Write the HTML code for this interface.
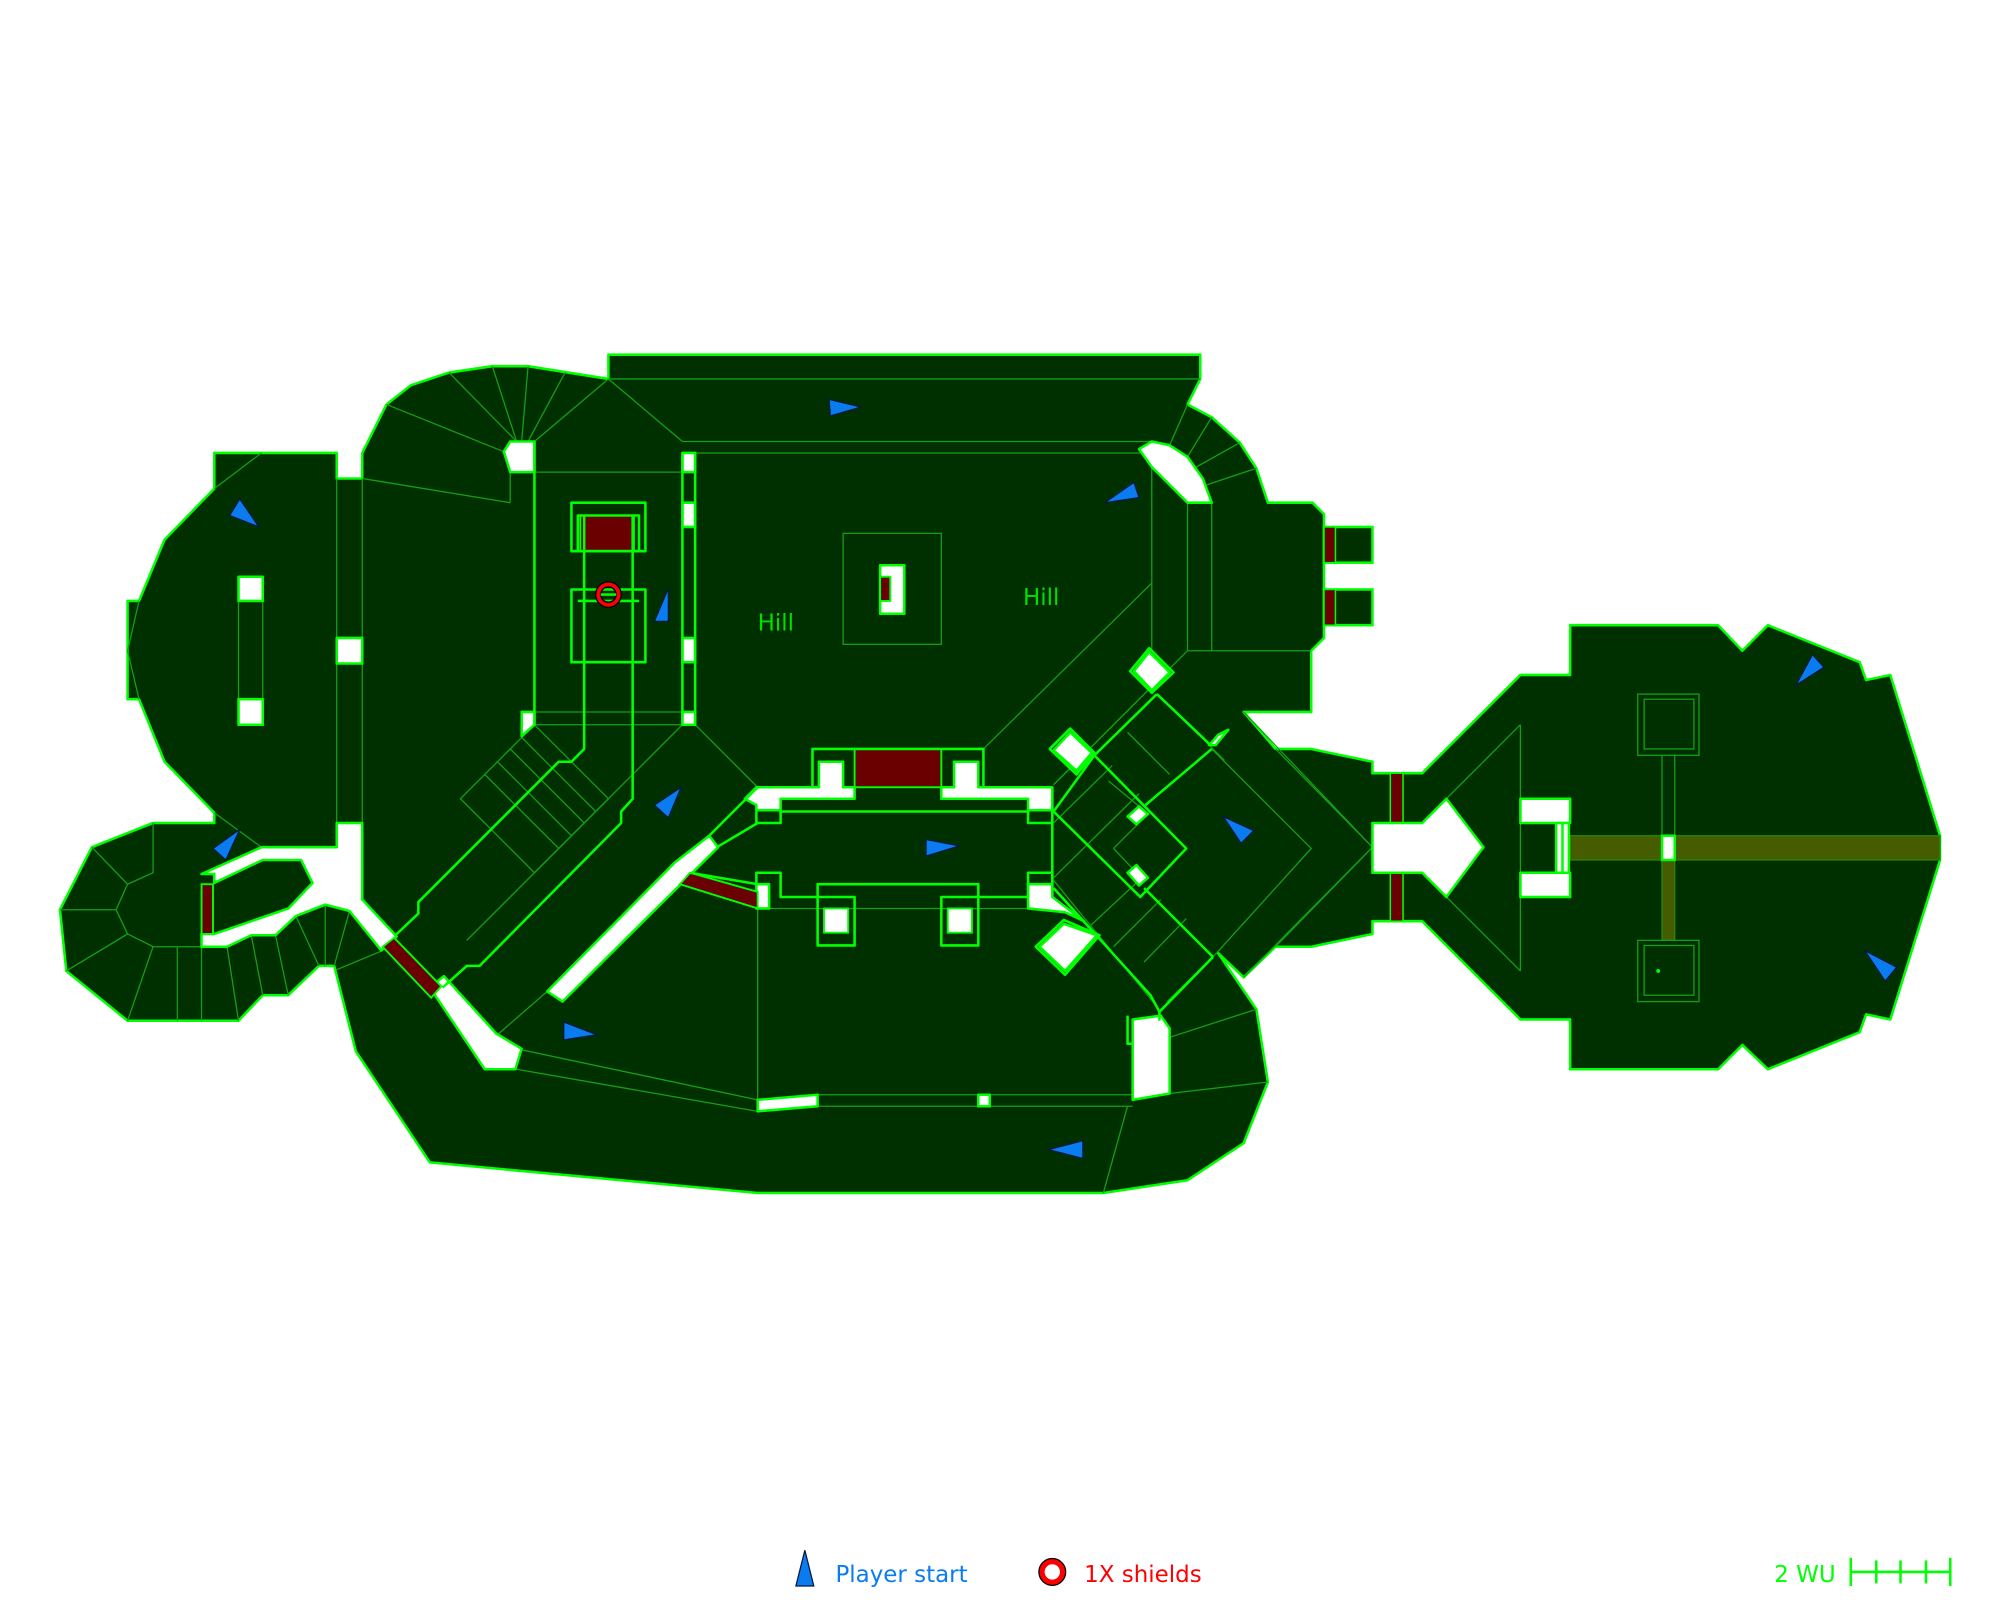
<!DOCTYPE html>
<html><head><meta charset="utf-8"><style>
html,body{margin:0;padding:0;background:#fff;}
svg{display:block;}
text{font-family:"DejaVu Sans","Liberation Sans",sans-serif;}
</style></head><body>
<svg width="2000" height="1600" viewBox="0 0 1568 1254" preserveAspectRatio="none" xmlns="http://www.w3.org/2000/svg">
<rect width="1568" height="1254" fill="#fff"/>
<polygon fill="#003000" stroke="#00ff00" stroke-width="2" stroke-linejoin="round" points="168,355 264,355 264,375 284,375 284,355 303,317 322,302 352,292 386,287 414,287 477,297 477,278 941,278 941,297 931,317 950,327 972,347 985,367 994,394 1029,394 1038,403 1038,413 1038,500 1028,510 1028,558 975,558 1000,587 1028,587 1076,597 1076,606 1115,606 1192,529 1231,529 1231,490 1347,490 1366,510 1386,490 1458,519 1463,533 1482,529 1521,655 1521,674 1482,799 1463,795 1458,809 1386,838 1366,819 1347,838 1231,838 1231,799 1192,799 1115,722 1076,722 1076,732 1028,742 1000,742 975,766 955,747 985,791 994,848 975,896 931,925 865,935 594,935 337,911 279,824 262,757 250,757 226,780 206,780 187,800 100,800 52,761 47,713 72,664 120,645 168,645 168,637 129,597 109,548 100,548 100,471 109,471 129,423 168,383"/>
<g fill="#003000" stroke="#00ff00" stroke-width="2">
<rect x="1038" y="413" width="38" height="28"/><rect x="1038" y="462" width="38" height="28"/>
</g>
<g fill="#6b0000" stroke="#00ff00" stroke-width="1.2">
<rect x="1038" y="413" width="9" height="28"/><rect x="1038" y="462" width="9" height="28"/>
<rect x="1090" y="606" width="10" height="39"/><rect x="1090" y="684" width="10" height="38"/>
</g>
<rect x="1231" y="655" width="290" height="19" fill="#465c00" stroke="#2a8a00" stroke-width="1"/>
<rect x="1303" y="674" width="10" height="63" fill="#465c00" stroke="#2a8a00" stroke-width="1"/>
<g stroke="#14a014" stroke-width="1" fill="none">
<line x1="477" y1="297" x2="941" y2="297"/>
<line x1="535" y1="346" x2="903" y2="346"/><line x1="545" y1="355" x2="903" y2="355"/>
<line x1="419" y1="370" x2="535" y2="370"/>
<line x1="477" y1="297" x2="535" y2="346"/><line x1="477" y1="297" x2="419" y2="346"/>
<line x1="284" y1="375" x2="400" y2="394"/><line x1="400" y1="370" x2="400" y2="394"/>
<line x1="303" y1="317" x2="395" y2="354"/>
<line x1="405" y1="346" x2="352" y2="292"/><line x1="405" y1="346" x2="386" y2="287"/>
<line x1="409" y1="346" x2="414" y2="287"/><line x1="414" y1="346" x2="443" y2="292"/>
<line x1="264" y1="375" x2="264" y2="645"/><line x1="284" y1="375" x2="284" y2="645"/>
<line x1="168" y1="383" x2="205" y2="355"/><line x1="168" y1="637" x2="205" y2="664"/>
<polyline points="109,471 100,510 109,548"/>
<rect x="187" y="471" width="19" height="77"/>
<line x1="419" y1="558" x2="545" y2="558"/><line x1="419" y1="568" x2="545" y2="568"/>
<polygon points="361,626 419,568 477,626 419,684"/>
<line x1="380" y1="607" x2="438" y2="665"/><line x1="390" y1="597" x2="448" y2="655"/>
<line x1="400" y1="587" x2="458" y2="645"/><line x1="409" y1="578" x2="467" y2="636"/>
<line x1="545" y1="568" x2="594" y2="617"/>
<line x1="535" y1="568" x2="366" y2="737"/>
<line x1="429" y1="777" x2="390" y2="811"/>
<line x1="903" y1="355" x2="903" y2="510"/><line x1="931" y1="394" x2="931" y2="510"/><line x1="950" y1="394" x2="950" y2="510"/>
<line x1="903" y1="457" x2="771" y2="587"/><line x1="931" y1="510" x2="1028" y2="510"/>
<line x1="917" y1="349" x2="931" y2="317"/><line x1="931" y1="358" x2="950" y2="327"/>
<line x1="938" y1="366" x2="972" y2="347"/><line x1="946" y1="380" x2="985" y2="367"/>
<rect x="661" y="418" width="77" height="87"/>
<polyline points="975,558 1076,664 975,766"/>
<polyline points="1000,587 1076,664 1000,742"/>
<polyline points="950,587 1028,665 951,750"/>
<line x1="931" y1="510" x2="887" y2="554"/>
<line x1="887" y1="554" x2="826" y2="615"/>
<line x1="901" y1="540" x2="826" y2="615"/>
<line x1="926" y1="562" x2="960" y2="596"/>
<line x1="884" y1="574" x2="917" y2="607"/>
<line x1="869" y1="612" x2="898" y2="636"/>
<line x1="873" y1="665" x2="893" y2="645"/><line x1="873" y1="665" x2="893" y2="686"/>
<line x1="826" y1="645" x2="872" y2="600"/>
<line x1="826" y1="688" x2="893" y2="622"/>
<line x1="826" y1="690" x2="908" y2="790"/>
<line x1="850" y1="730" x2="893" y2="690"/>
<line x1="873" y1="742" x2="910" y2="705"/>
<line x1="897" y1="754" x2="930" y2="720"/>
<line x1="915" y1="785" x2="951" y2="750"/>
<line x1="1192" y1="568" x2="1134" y2="626"/><line x1="1192" y1="761" x2="1134" y2="703"/>
<line x1="1192" y1="568" x2="1192" y2="761"/>
<line x1="410" y1="823" x2="594" y2="862"/><line x1="405" y1="838" x2="594" y2="871"/>
<line x1="594" y1="712" x2="594" y2="862"/>
<line x1="641" y1="858" x2="888" y2="858"/><line x1="641" y1="867" x2="888" y2="867"/>
<line x1="865" y1="935" x2="884" y2="867"/>
<line x1="917" y1="857" x2="994" y2="848"/><line x1="917" y1="813" x2="985" y2="791"/>
<line x1="603" y1="712" x2="825" y2="712"/>
<polyline points="72,664 100,693 120,684 120,645"/>
<line x1="47" y1="713" x2="91" y2="713"/>
<polyline points="100,693 91,713 100,732 52,761"/>
<line x1="100" y1="732" x2="120" y2="742"/><line x1="120" y1="742" x2="100" y2="800"/>
<line x1="120" y1="742" x2="158" y2="742"/>
<line x1="139" y1="742" x2="139" y2="800"/><line x1="158" y1="742" x2="158" y2="800"/>
<line x1="178" y1="742" x2="187" y2="800"/><line x1="197" y1="733" x2="206" y2="780"/>
<line x1="216" y1="733" x2="226" y2="780"/><line x1="232" y1="718" x2="250" y2="757"/>
<line x1="255" y1="709" x2="255" y2="757"/><line x1="274" y1="714" x2="262" y2="757"/>
<line x1="300" y1="745" x2="264" y2="760"/>
<rect x="1284" y="544" width="48" height="48"/><rect x="1289" y="548" width="39" height="39"/>
<rect x="1284" y="737" width="48" height="48"/><rect x="1289" y="741" width="39" height="39"/>
<line x1="1303" y1="592" x2="1303" y2="655"/><line x1="1313" y1="592" x2="1313" y2="655"/>
</g>
<circle cx="1300" cy="761" r="1.5" fill="#00ff00"/>
<g fill="#fff" stroke="#00ff00" stroke-width="2" stroke-linejoin="round">
<polygon points="205,664 264,664 264,645 284,645 284,705 311,734 299,745 274,714 255,709 232,718 216,733 197,733 178,742 158,742 158,732 168,732 226,712 245,692 236,674 206,674 168,692 168,685 158,685 158,685"/>
<polygon points="400,346 419,346 419,370 400,370 395,354"/>
<rect x="535" y="355" width="10" height="15"/><rect x="535" y="394" width="10" height="19"/>
<rect x="535" y="500" width="10" height="19"/><rect x="535" y="558" width="10" height="10"/>
<polygon points="409,558 419,558 419,568 409,577"/>
<rect x="264" y="500" width="20" height="20"/>
<rect x="187" y="452" width="19" height="19"/><rect x="187" y="548" width="19" height="20"/>
<polygon points="429,777 529,676 556,655 563,664 441,785"/>
<polygon points="337,774 348,765 389,810 409,822 404,838 380,838"/>
<polygon points="584,626 593,617 642,617 642,597 661,597 661,617 670,617 670,626 612,626 612,635 593,635 593,631"/>
<polygon points="738,617 748,617 748,597 767,597 767,617 825,617 825,635 806,635 806,626 738,626"/>
<rect x="593" y="693" width="10" height="19"/>
<polygon points="806,693 825,693 825,703 850,722 835,715 806,712"/>
<polygon points="893,352 903,346 917,349 931,358 943,375 950,394 931,394 903,366"/>
<polygon points="901,511 917,527 903,541 889,526"/>
<polygon points="839,574 856,590 844,604 826,588"/>
<polygon points="815,742 834,724 860,733 835,761"/>
<polygon points="948,584 955,576 963,572 953,584"/>
<polygon points="884,640 893,632 900,638 891,646"/>
<polygon points="884,684 891,678 900,688 893,694"/>
<polygon points="888,799 910,796 917,806 917,857 888,862"/>
<polygon points="594,862 641,858 641,867 594,871"/>
<rect x="767" y="858" width="9" height="9"/>
<polygon points="1076,645 1115,645 1134,626 1163,664 1134,703 1115,684 1076,684"/>
<rect x="1192" y="626" width="39" height="19"/><rect x="1192" y="684" width="39" height="19"/>
<rect x="1220" y="645" width="10" height="39"/>
<rect x="1303" y="655" width="10" height="19"/>
<rect x="690" y="443" width="19" height="38"/>
</g>
<g fill="#6b0000" stroke="#00ff00" stroke-width="1.5">
<polygon points="300,742 309,735 346,773 338,782"/>
<rect x="158" y="693" width="9" height="39"/>
<polygon points="533,693 541,684 594,699 594,712"/>
<rect x="670" y="587" width="68" height="30"/>
<rect x="455" y="404" width="42" height="28"/>
<rect x="690" y="452" width="8" height="19"/>
</g>
<g stroke="#00ff00" stroke-width="2" fill="none" stroke-linejoin="round">
<line x1="419" y1="346" x2="419" y2="568"/>
<line x1="535" y1="355" x2="535" y2="568"/><line x1="545" y1="355" x2="545" y2="568"/>
<rect x="448" y="394" width="58" height="38"/><rect x="448" y="462" width="58" height="57"/>
<rect x="453" y="404" width="48" height="28"/>
<polyline points="458,404 458,587 448,597 438,597 328,707 328,716 310,733"/>
<polyline points="496,404 496,626 487,636 487,645 376,757 366,757 347,774"/>
<line x1="453" y1="471" x2="501" y2="471"/>
<polyline points="637,617 637,587 771,587 771,617"/>
<polyline points="593,636 593,645 612,645 612,636 806,636 806,645 825,645 825,636"/>
<polyline points="593,693 593,684 612,684 612,703 641,703 641,693 767,693 767,703 806,703 806,684 825,684 825,693"/>
<rect x="641" y="703" width="29" height="38"/><rect x="738" y="703" width="29" height="38"/>
<polygon points="646,712 665,712 665,731 646,731" fill="#fff" stroke-width="1.5"/>
<polygon points="743,712 762,712 762,731 743,731" fill="#fff" stroke-width="1.5"/>
<line x1="555" y1="656" x2="594" y2="617"/><line x1="562" y1="664" x2="594" y2="645"/>
<line x1="541" y1="684" x2="594" y2="693"/>
<line x1="825" y1="617" x2="825" y2="703"/>
<polygon points="901,508 920,527 903,543 886,526"/>
<polygon points="839,571 858,590 844,607 823,587"/>
<polygon points="834,721 862,733 835,764 812,742"/>
<line x1="907" y1="544" x2="858" y2="592"/>
<line x1="907" y1="544" x2="948" y2="583"/>
<polygon points="858,592 930,665 894,703 826,636"/>
<line x1="950" y1="587" x2="898" y2="631"/>
<polyline points="826,696 902,780 909,793"/>
<line x1="897" y1="696" x2="951" y2="750"/>
<line x1="951" y1="750" x2="909" y2="793"/>
<line x1="909" y1="793" x2="909" y2="800"/>
<polyline points="884,796 884,818 888,818"/>
<polyline points="1225,645 1225,684"/>
</g>
<text x="594" y="494" font-size="18" fill="#00e000">Hill</text>
<text x="802" y="474" font-size="18" fill="#00e000">Hill</text>
<circle cx="477" cy="466" r="8" fill="none" stroke="#000" stroke-width="5"/>
<circle cx="477" cy="466" r="8" fill="none" stroke="#ff0000" stroke-width="3"/>
<line x1="471" y1="466" x2="483" y2="466" stroke="#00ff00" stroke-width="2"/>
<g fill="#0a7cf0" stroke="#001a40" stroke-width="1">
<polygon points="188,391 180,404 203,413"/>
<polygon points="167,665 188,650 177,674"/>
<polygon points="513,487 524,461 524,487"/>
<polygon points="513,631 534,617 524,641"/>
<polygon points="650,313 675,319 651,326"/>
<polygon points="866,394 889,378 893,390"/>
<polygon points="726,658 752,663 726,671"/>
<polygon points="442,801 468,811 442,815"/>
<polygon points="822,901 849,894 849,908"/>
<polygon points="959,640 983,651 973,661"/>
<polygon points="1408,537 1421,513 1430,523"/>
<polygon points="1462,745 1487,758 1478,769"/>
<polygon points="624,1243 631,1215 638,1243"/>
</g>
<text x="655" y="1240" font-size="18" fill="#0a7cf0">Player start</text>
<circle cx="825" cy="1232" r="8" fill="#fff" stroke="#000" stroke-width="6"/>
<circle cx="825" cy="1232" r="8" fill="#fff" stroke="#ff0000" stroke-width="4"/>
<text x="850" y="1240" font-size="18" fill="#ff0000">1X shields</text>
<text x="1391" y="1240" font-size="18" fill="#00ff00">2 WU</text>
<g stroke="#00ff00" stroke-width="2">
<line x1="1451" y1="1232" x2="1529" y2="1232"/>
<line x1="1451" y1="1221" x2="1451" y2="1243"/><line x1="1471" y1="1223" x2="1471" y2="1241"/>
<line x1="1490" y1="1223" x2="1490" y2="1241"/><line x1="1510" y1="1223" x2="1510" y2="1241"/>
<line x1="1529" y1="1221" x2="1529" y2="1243"/>
</g>
</svg>
</body></html>
